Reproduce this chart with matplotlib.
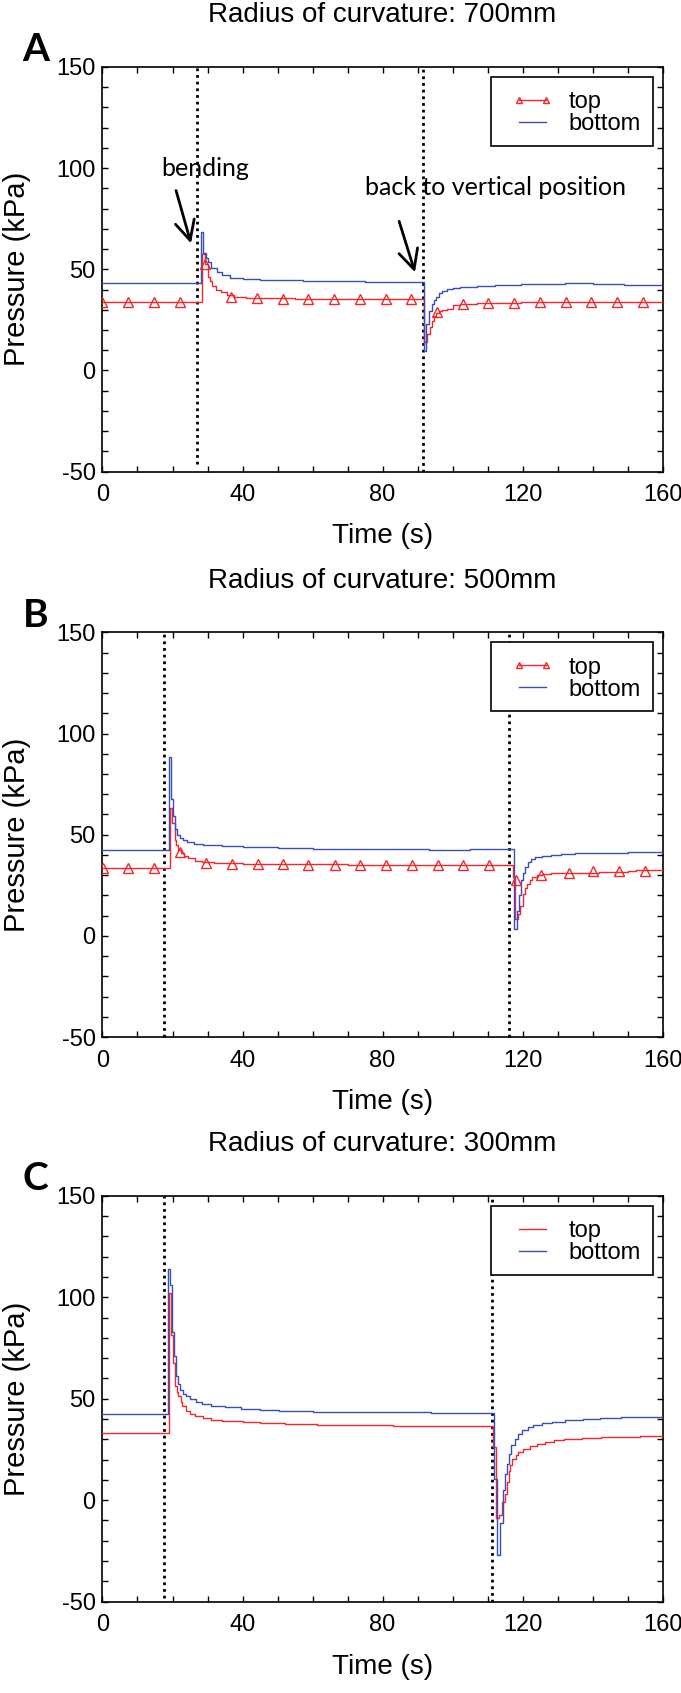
import matplotlib
matplotlib.use("Agg")
import matplotlib.pyplot as plt
from matplotlib.ticker import MultipleLocator
from matplotlib.patches import Rectangle
from matplotlib.lines import Line2D

# ---------------- data ----------------
titles = ["Radius of curvature: 700mm", "Radius of curvature: 500mm", "Radius of curvature: 300mm"]
panel_letters = ["A", "B", "C"]
xticks = [0, 40, 80, 120, 160]
yticks = [-50, 0, 50, 100, 150]

# Panel A
a_bottom_t = [0, 28.2, 28.8, 29.5, 30.1, 31, 32.6, 34, 36.3, 40, 45, 50, 57.4, 65, 75, 82.3,
              91.7, 92.5, 93.3, 94.1, 94.7, 95.3, 96, 97, 98.5, 100, 102, 107, 112, 119.6, 132, 140, 149, 155, 160]
a_bottom_v = [43.1, 68.2, 58, 55.5, 53.5, 50.5, 48.5, 47.2, 45.8, 45.2, 44.9, 44.6, 44.2, 44.0, 43.8, 43.6,
              9.7, 23, 29.3, 33, 34.7, 36.5, 38.3, 39.5, 40.4, 40.8, 41.1, 41.7, 42.2, 42.8, 43.0, 42.8, 42.4, 42.0, 41.9]
a_top_t = [0, 28.5, 29.2, 30.1, 30.7, 31.3, 32.5, 33.8, 35.5, 37.5, 41, 45, 55, 70, 82,
           91.8, 92.8, 93.5, 94.1, 94.7, 95.3, 96, 97, 98.5, 100, 102, 107, 112, 119.6, 135, 160]
a_top_v = [33.8, 57.6, 52.6, 46.3, 44, 41.9, 40, 38.6, 37.3, 36.5, 36, 35.6, 35.4, 35.2, 35.1,
           14.1, 18, 21.3, 24.5, 26.7, 28.2, 29.3, 30, 30.6, 32.2, 32.8, 33.2, 33.4, 33.6, 33.7, 33.8]
a_mark_t = [0, 7.35, 14.7, 22.05, 29.4, 36.75, 44.1, 51.45, 58.8, 66.15, 73.5, 80.85, 88.2,
            95.55, 102.9, 110.25, 117.6, 124.95, 132.3, 139.65, 147, 154.35]
a_mark_v = [33.8, 33.8, 33.8, 33.8, 52.6, 36.5, 35.8, 35.5, 35.4, 35.3, 35.2, 35.2, 35.1,
            28.8, 33.0, 33.3, 33.5, 33.6, 33.6, 33.7, 33.8, 33.8]
a_events = [27.0, 91.6]
a_event_ymin = [-46, -50]

# Panel B
b_bottom_t = [0, 18.9, 19.5, 20.2, 20.8, 21.4, 22.1, 23, 24.2, 26, 28.6, 34, 40, 50, 60, 71.7, 93.2, 105,
              117.6, 118.3, 119, 119.6, 120.2, 120.7, 121.5, 122.3, 123.5, 125.5, 128, 130.9, 135, 141.7, 150, 160]
b_bottom_v = [42.6, 88.5, 67.6, 59.3, 52.6, 50, 48.4, 47.2, 46.2, 45.4, 44.7, 44.2, 43.9, 43.4, 43.1, 42.9, 42.7, 42.9,
              3.3, 12.5, 20, 27.5, 31, 34.2, 36.3, 37.9, 38.8, 39.6, 40.2, 40.6, 40.9, 41.2, 41.3, 41.4]
b_top_t = [0, 19.2, 19.9, 20.6, 21.1, 21.6, 22.3, 23.2, 24.5, 26.4, 28.5, 31.8, 40, 50, 70, 93, 105,
           117.4, 117.9, 118.8, 119.4, 120.2, 120.7, 121.2, 122, 122.8, 124, 125.5, 128, 131, 141.7, 150, 152.5, 160]
b_top_v = [33.4, 63.4, 55.9, 47.6, 45, 42.6, 41, 39.6, 38.3, 37.2, 36.5, 35.9, 35.6, 35.4, 35.2, 35.1, 35.0,
           29.2, 8.3, 10.9, 15, 20.9, 23.5, 25.9, 27.8, 29.2, 30, 30.6, 31, 31.2, 31.7, 32.3, 32.6, 32.2]
b_mark_t = [0.2, 7.3, 14.7, 22.1, 29.6, 36.9, 44.3, 51.7, 58.7, 66.3, 73.5, 80.9, 88.4, 95.7,
            103.1, 110.5, 118.0, 125.3, 133.4, 140.1, 147.6, 155.0]
b_mark_v = [33.4, 33.4, 33.4, 41.5, 36.2, 35.5, 35.4, 35.4, 35.0, 35.0, 35.0, 35.0, 35.0, 35.0,
            34.8, 34.8, 27.5, 30.0, 31.2, 32.0, 32.2, 32.2]
b_events = [17.5, 116.2]
b_event_ymin = [-50, -50]

# Panel C
c_bottom_t = [0, 18.7, 19.4, 19.8, 20.5, 21.1, 21.6, 22.2, 23, 23.9, 25, 26.6, 28.5, 30.9, 35, 39.6, 45, 50.4,
              60, 72, 93.8, 104, 111.9, 112.7, 113.5, 114.3, 115, 115.5, 116, 116.8, 117.7, 118.7, 119.8,
              121.5, 123.1, 125.5, 128.5, 132, 137.2, 142, 148, 160]
c_bottom_v = [42.5, 113.7, 106, 82.8, 71.2, 61.2, 57, 54.5, 52.5, 51.2, 49.6, 48.2, 47.2, 46.5, 45.7, 45, 44.5, 44,
              43.6, 43.3, 43, 42.8, 10.3, -27.2, -11.3, 5, 12.8, 18, 22.8, 27, 30.3, 32.6, 34.5,
              36, 37, 38, 38.7, 39.4, 40, 40.4, 40.8, 41.2]
c_top_t = [0, 19.0, 19.5, 20.1, 20.7, 21.2, 21.7, 22.3, 22.8, 23.8, 24.9, 26.5, 28.7, 31, 34.2, 40, 45, 52,
           61.3, 70, 83, 98, 111.6, 112.4, 113.3, 114.2, 115, 115.5, 116, 116.5, 117.1, 118, 118.7,
           120.2, 122, 124, 126.3, 129, 131.7, 137, 142.5, 153.5, 160]
c_top_v = [33.2, 102, 81.2, 67.8, 56.2, 53.5, 51.2, 48.5, 46.2, 44, 42.5, 41.3, 40.3, 39.6, 39, 38.3, 37.8, 37.4,
           37, 36.8, 36.5, 36.3, 26.2, -8.8, -7.2, -1, 2.8, 9, 14.5, 17.5, 20.3, 22.2, 23.7,
           25.2, 26.5, 27.7, 28.7, 29.6, 30.3, 30.8, 31.2, 31.7, 32]
c_events = [17.6, 111.4]
c_event_ymin = [-48, -50]

panels = [
    dict(bt=a_bottom_t, bv=a_bottom_v, tt=a_top_t, tv=a_top_v, mt=a_mark_t, mv=a_mark_v, ev=a_events, evmin=a_event_ymin),
    dict(bt=b_bottom_t, bv=b_bottom_v, tt=b_top_t, tv=b_top_v, mt=b_mark_t, mv=b_mark_v, ev=b_events, evmin=b_event_ymin),
    dict(bt=c_bottom_t, bv=c_bottom_v, tt=c_top_t, tv=c_top_v, mt=None, mv=None, ev=c_events, evmin=c_event_ymin),
]

# ---------------- style ----------------
RED = "#f0282d"
BLUE = "#3a4fb5"
plt.rcParams["font.family"] = ["Liberation Sans", "DejaVu Sans"]
plt.rcParams["axes.unicode_minus"] = False

fig = plt.figure(figsize=(6.81, 16.93), dpi=100)
ax_rects = [
    [0.1505, 0.7214, 0.8225, 0.2391],
    [0.1505, 0.3874, 0.8225, 0.2391],
    [0.1505, 0.0540, 0.8225, 0.2397],
]

for i, (rect, p) in enumerate(zip(ax_rects, panels)):
    ax = fig.add_axes(rect)
    ax.plot(p["tt"], p["tv"], color=RED, lw=1.0, drawstyle="steps-post", zorder=3)
    ax.plot(p["bt"], p["bv"], color=BLUE, lw=1.0, drawstyle="steps-post", zorder=3)
    if p["mt"] is not None:
        ax.plot(p["mt"], p["mv"], linestyle="none", marker="^", ms=7, mfc="none",
                mec=RED, mew=1.0, zorder=4)
    for x, ymin in zip(p["ev"], p["evmin"]):
        ax.plot([x, x], [ymin, 150], color="black", lw=2.0, linestyle=(0, (1, 1.4)),
                zorder=2, clip_on=False)

    ax.set_xlim(0, 160)
    ax.set_ylim(-50, 150)
    ax.set_xticks(xticks)
    ax.set_yticks(yticks)
    ax.xaxis.set_minor_locator(MultipleLocator(10))
    ax.yaxis.set_minor_locator(MultipleLocator(10))
    ax.tick_params(which="both", direction="in", top=True, right=True, length=4, width=1.0,
                   labelsize=17, pad=5)
    ax.tick_params(axis="x", which="major", pad=9)
    for s in ax.spines.values():
        s.set_linewidth(1.2)

    ax.set_xlabel("Time (s)", fontsize=20)
    ax.xaxis.set_label_coords(0.5, -0.128)
    ax.set_ylabel("Pressure (kPa)", fontsize=21)
    ax.yaxis.set_label_coords(-0.128, 0.5)
    ax.set_title(titles[i], fontsize=20, pad=32)
    ax.text(-0.12, 1.042, panel_letters[i], transform=ax.transAxes, fontsize=28,
            fontweight="bold", family=["Lato", "DejaVu Sans"], ha="center", va="center")

    # legend box
    ax.add_patch(Rectangle((0.694, 0.805), 0.289, 0.171, transform=ax.transAxes,
                           facecolor="white", edgecolor="black", lw=1.2, zorder=5))
    if p["mt"] is not None:
        h_top = Line2D([], [], color=RED, lw=1.0, marker="^", ms=5, mfc="none", mec=RED, mew=1.0)
    else:
        h_top = Line2D([], [], color=RED, lw=1.0)
    h_bot = Line2D([], [], color=BLUE, lw=1.0)
    leg = ax.legend([h_top, h_bot], ["top", "bottom"], loc="upper left",
                    bbox_to_anchor=(0.731, 0.94), frameon=False, fontsize=17,
                    borderpad=0, borderaxespad=0, handlelength=1.75, handletextpad=0.64,
                    labelspacing=0.0, numpoints=2)
    leg.set_zorder(6)

    if i == 0:
        ax.annotate("", xy=(25.5, 61.5), xytext=(20.8, 90.2),
                    arrowprops=dict(arrowstyle="->", lw=2, color="black", mutation_scale=35))
        ax.annotate("", xy=(89.5, 47.2), xytext=(84.5, 75),
                    arrowprops=dict(arrowstyle="->", lw=2, color="black", mutation_scale=35))
        ax.text(29.2, 100, "bending", fontsize=18, family=["Lato", "DejaVu Sans"],
                ha="center", va="center", zorder=7)
        ax.text(112.4, 90.5, "back to vertical position", fontsize=18,
                family=["Lato", "DejaVu Sans"], ha="center", va="center", zorder=7)

fig.savefig("out.png", dpi=100)
